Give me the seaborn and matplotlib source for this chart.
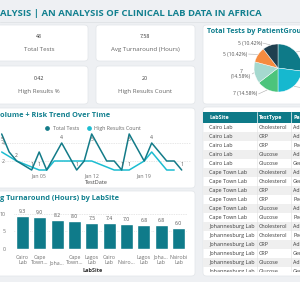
import numpy as np
import pandas as pd
import matplotlib
matplotlib.use('Agg')
import matplotlib.pyplot as plt
from matplotlib.patches import FancyBboxPatch, Rectangle
from matplotlib.lines import Line2D
import seaborn as sns

# KPI cards
kpi_values = ['48', '7.58', '0.42', '20']
kpi_labels = ['Total Tests', 'Avg Turnaround (Hours)', 'High Results %', 'High Results Count']

# trend over time (days counted from 2023-12-31)
total_days = [0, 1, 2, 4, 5, 6, 8, 10, 11, 12, 14, 15, 16, 17, 19, 20, 22, 23, 24]
total_tests = [5, 3, 2, 1, 3, 1, 4, 1, 2, 5, 2, 2, 1, 5, 2, 4, 2, 2, 1]
high_days = [0, 2, 5, 6, 7, 12, 15, 17, 19, 20, 22, 23]
high_count = [3, 2, 1, 1, 2, 2, 1, 1, 2, 3, 1, 1]
label_total = [0, 2, 4, 8, 10, 12, 16, 17, 20, 24]
label_high = [5, 17]

# avg turnaround by lab site
bar_labels = ['Cairo\nLab', 'Cape\nTown...', '\nJoha...', 'Cape\nTown...', 'Lagos\nLab',
              'Cairo\nLab', '\nNairo...', 'Lagos\nLab', 'Joha...\nLab', 'Nairobi\nLab']
bar_values = [9.3, 9.0, 8.2, 8.0, 7.5, 7.4, 7.0, 6.8, 6.8, 6.0]

# tests by patient group
pie_counts = [13, 11, 7, 7, 5, 5]
pie_colors = ['#0e7a88', '#16b8cf', '#4cc47c', '#a5d9cf', '#f68b3f', '#1f3f4f']

# table
table_cols = ['LabSite', 'TestType', 'PatientGroup']
table_site = ['Cairo Lab'] * 5 + ['Cape Town Lab'] * 6 + ['Johannesburg Lab'] * 6
table_test = ['Cholesterol', 'CRP', 'CRP', 'Glucose', 'Glucose',
              'Cholesterol', 'Cholesterol', 'CRP', 'CRP', 'Glucose', 'Glucose',
              'Cholesterol', 'Cholesterol', 'CRP', 'CRP', 'Glucose', 'Glucose']
table_group = ['Adult', 'Adult', 'Pediatric', 'Adult', 'Geriatric',
               'Adult', 'Geriatric', 'Adult', 'Pediatric', 'Adult', 'Pediatric',
               'Adult', 'Pediatric', 'Adult', 'Geriatric', 'Adult', 'Geriatric']

TEAL = '#12808f'
DARK = '#137b88'
LIGHT = '#1cbdd1'
GREY = '#707070'

sns.set_theme(style='white')
plt.rcParams['font.family'] = ['Open Sans', 'DejaVu Sans']

W, H = 300, 282
fig = plt.figure(figsize=(3.0, 2.82), dpi=100)
fig.patch.set_facecolor('#eef0f3')


def px_axes(x, y, w, h):
    return fig.add_axes([x / W, 1 - (y + h) / H, w / W, h / H])


def card(x, y, w, h):
    fig.add_artist(FancyBboxPatch((x / W, 1 - (y + h) / H), w / W, h / H,
                                  boxstyle='round,pad=0,rounding_size=0.012',
                                  transform=fig.transFigure, facecolor='white',
                                  edgecolor='#e2e5e9', linewidth=0.5, zorder=0))


def ftext(x, y, s, **kw):
    fig.text(x / W, 1 - y / H, s, **kw)


# header
ftext(0, 13, 'ALYSIS | AN ANALYSIS OF CLINICAL LAB DATA IN AFRICA', fontsize=6.8,
      fontweight='bold', color=TEAL, va='center', ha='left')
fig.add_artist(Line2D([0, 1], [1 - 21.5 / H] * 2, transform=fig.transFigure,
                      color='#dcdfe3', lw=0.5))

# KPI cards
kpi_boxes = [(-10, 25, 98, 36), (96, 25, 99, 36), (-10, 66, 98, 38), (96, 66, 99, 38)]
kpi_cx = [39, 145, 39, 145]
kpi_vy = [37, 37, 79, 79]
for (x, y, w, h), cx, vy, v, lab in zip(kpi_boxes, kpi_cx, kpi_vy, kpi_values, kpi_labels):
    card(x, y, w, h)
    ftext(cx, vy, v, fontsize=3.8, color='#333333', ha='center', va='center')
    ftext(cx, vy + 12.5, lab, fontsize=4.4, color='#666666', ha='center', va='center')

# trend card
card(-10, 108, 205, 80)
ftext(0, 116, 'olume + Risk Trend Over Time', fontsize=5.35, fontweight='bold',
      color=TEAL, va='center', ha='left')

base = pd.Timestamp('2023-12-31')
trend = pd.concat([
    pd.DataFrame({'TestDate': base + pd.to_timedelta(total_days, unit='D'),
                  'Count': total_tests, 'Series': 'Total Tests'}),
    pd.DataFrame({'TestDate': base + pd.to_timedelta(high_days, unit='D'),
                  'Count': high_count, 'Series': 'High Results Count'}),
])
ax = px_axes(1, 132, 190, 39)
sns.lineplot(data=trend, x='TestDate', y='Count', hue='Series',
             palette={'Total Tests': DARK, 'High Results Count': LIGHT},
             hue_order=['High Results Count', 'Total Tests'],
             linewidth=1.1, ax=ax, legend=False)
ax.set_xlim(base + pd.Timedelta(days=-0.09), base + pd.Timedelta(days=25.24))
ax.set_ylim(0.89, 5.22)
ax.set_yticks([2, 4])
ax.set_yticklabels(['2', '4'])
ticks = [pd.Timestamp('2024-01-05'), pd.Timestamp('2024-01-12'), pd.Timestamp('2024-01-19')]
ax.set_xticks(ticks)
ax.set_xticklabels(['Jan 05', 'Jan 12', 'Jan 19'])
ax.tick_params(axis='x', length=0, pad=1.5, labelsize=3.8, labelcolor=GREY)
ax.tick_params(axis='y', length=0, pad=-3, labelsize=3.8, labelcolor=GREY)
ax.grid(axis='y', linestyle=(0, (1, 1.5)), color='#d0d0d0', lw=0.5)
ax.set_facecolor('none')
for s in ax.spines.values():
    s.set_visible(False)
ax.set_xlabel('TestDate', fontsize=4, color='#444444', labelpad=1.5)
ax.set_ylabel('')
for d, v in zip(total_days, total_tests):
    if d in label_total:
        up = v < 5
        ax.annotate(str(v), (base + pd.Timedelta(days=d), v), xytext=(0, 2 if up else -2),
                    textcoords='offset points', ha='center', va='bottom' if up else 'top',
                    fontsize=3.6, color='#555555')
for d, v in zip(high_days, high_count):
    if d in label_high:
        ax.annotate(str(v), (base + pd.Timedelta(days=d), v), xytext=(0, 2),
                    textcoords='offset points', ha='center', va='bottom',
                    fontsize=3.6, color='#555555')
handles = [Line2D([], [], marker='o', ls='', color=DARK, markersize=2.4),
           Line2D([], [], marker='o', ls='', color=LIGHT, markersize=2.4)]
ax.legend(handles, ['Total Tests', 'High Results Count'], loc='center',
          bbox_to_anchor=(0.476, 1.1), ncol=2, frameon=False, fontsize=3.8,
          handletextpad=0.1, columnspacing=0.8, labelcolor='#666666', borderpad=0)

# bar card
card(-10, 191, 205, 85)
ftext(0, 198, 'g Turnaround (Hours) by LabSite', fontsize=5.35, fontweight='bold',
      color=TEAL, va='center', ha='left')
bar_df = pd.DataFrame({'slot': range(len(bar_values)), 'AvgTurnaround': bar_values})
ax2 = px_axes(13.8, 212, 173.4, 37)
sns.barplot(data=bar_df, x='slot', y='AvgTurnaround', color='#0f7b8a', saturation=1,
            width=0.75, ax=ax2)
ax2.set_xlim(-0.5, len(bar_values) - 0.5)
ax2.set_ylim(0, 10.57)
ax2.set_yticks([0, 5, 10])
ax2.set_xticks(range(len(bar_labels)))
ax2.set_xticklabels(bar_labels, linespacing=1.15)
ax2.tick_params(axis='x', length=0, pad=4, labelsize=3.8, labelcolor=GREY)
ax2.tick_params(axis='y', length=0, pad=6, labelsize=3.8, labelcolor=GREY)
ax2.grid(axis='y', linestyle=(0, (1, 1.5)), color='#d0d0d0', lw=0.5)
ax2.set_axisbelow(True)
ax2.set_facecolor('none')
for s in ax2.spines.values():
    s.set_visible(False)
ax2.set_xlabel('')
ax2.set_ylabel('')
ax2.bar_label(ax2.containers[0], fmt='%.1f', fontsize=3.6, padding=1.5, color='#555555')
ftext(93, 270, 'LabSite', fontsize=4, color='#333333', fontweight='bold',
      ha='center', va='center')

# pie card
card(203, 25, 110, 79)
ftext(207, 32, 'Total Tests by PatientGroup', fontsize=5.2, fontweight='bold',
      color=TEAL, va='center', ha='left')
ax3 = px_axes(254, 44, 48, 48)
wedges, _ = ax3.pie(pie_counts, colors=pie_colors, startangle=90, counterclock=False,
                    radius=1, wedgeprops=dict(edgecolor='white', linewidth=0.3))
ax3.set_xlim(-1, 1)
ax3.set_ylim(-1, 1)
total = sum(pie_counts)
label_pos = [(1.2, 0.7, 'left'), (1.2, -0.85, 'left'), (-0.85, -1.08, 'right'),
             (-1.12, -0.25, 'right'), (-1.27, 0.58, 'right'), (-0.68, 1.04, 'right')]
for wdg, c, (lx, ly, ha) in zip(wedges, pie_counts, label_pos):
    pct = c / total * 100
    txt = f'{c} ({pct:.2f}%)' if abs(ly) > 0.4 else f'{c}\n({pct:.2f}%)'
    ax3.text(lx, ly, txt, ha=ha, va='center', fontsize=3.6, color='#555555',
             multialignment='center', clip_on=False)
    mid = np.deg2rad((wdg.theta1 + wdg.theta2) / 2)
    ex, ey = np.cos(mid), np.sin(mid)
    sx = lx + (0.04 if ha == 'right' else -0.04)
    ax3.plot([sx, ex * 1.02], [ly, ey * 1.02], color='#aaaaaa', lw=0.4, clip_on=False)

# table card
card(203, 107, 110, 169)
ax4 = px_axes(203, 107, 97, 165)
ax4.set_xlim(203, 300)
ax4.set_ylim(272, 107)
ax4.axis('off')
ax4.add_patch(Rectangle((203, 112), 110, 10.5, color='#0e7a88', lw=0))
col_x = [209, 259, 293]
for cx, name in zip(col_x, table_cols):
    ax4.text(cx, 117.3, name, fontsize=3.9, color='white', fontweight='bold',
             va='center', ha='left', clip_on=True)
for i, row in enumerate(zip(table_site, table_test, table_group)):
    y0 = 122.5 + 9 * i
    if i % 2 == 1:
        ax4.add_patch(Rectangle((203, y0), 110, 9, color='#efefef', lw=0))
    for cx, val in zip(col_x, row):
        ax4.text(cx, y0 + 4.7, val, fontsize=3.9, color='#3a3a3a', va='center',
                 ha='left', clip_on=True)
for sx in [257, 291]:
    ax4.plot([sx, sx], [112, 122.5], color='white', lw=0.5)
    ax4.plot([sx, sx], [122.5, 280], color='#e2e2e2', lw=0.4)

fig.savefig('out.png', dpi=100, facecolor=fig.get_facecolor())
